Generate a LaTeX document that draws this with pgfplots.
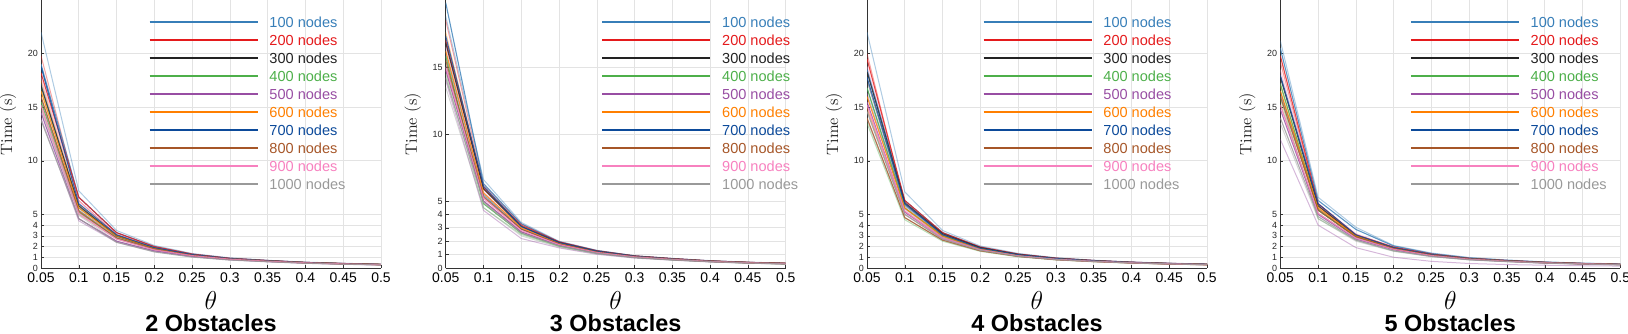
\RequirePackage{fix-cm}
\documentclass[border=0pt]{standalone}
\usepackage{fontspec}
\setsansfont{Liberation Sans}
\newfontfamily\lmr{lmroman10-regular.otf}
\usepackage{pgfplots}
\usepackage{pgfplotstable}
\pgfplotsset{compat=1.18}
\definecolor{c1}{HTML}{377EB8}
\definecolor{c2}{HTML}{E41A1C}
\definecolor{c3}{HTML}{222222}
\definecolor{c4}{HTML}{4DAF4A}
\definecolor{c5}{HTML}{984EA3}
\definecolor{c6}{HTML}{FF7F00}
\definecolor{c7}{HTML}{0C4A9A}
\definecolor{c8}{HTML}{A65628}
\definecolor{c9}{HTML}{F781BF}
\definecolor{c10}{HTML}{999999}

\pgfplotstableread{
x a1 a2 a3 a4 a5 a6 a7 a8 a9 a10 b1 b2 b3 b4 b5 b6 b7 b8 b9 b10
0.05 19.0 18.2 17.0 15.5 14.5 16.5 18.8 16.0 15.2 13.8 22.0 19.8 15.8 16.8 14.0 17.5 17.2 15.0 17.8 14.8
0.10 6.6 6.6 5.8 5.2 4.6 5.6 6.0 5.3 5.1 4.6 7.2 6.3 5.4 5.6 4.4 5.9 5.7 5.0 6.2 4.9
0.15 3.3 3.3 3.0 2.8 2.5 3.0 3.1 2.8 2.7 2.4 3.5 3.1 2.9 3.0 2.4 3.1 3.0 2.7 3.2 2.5
0.20 2.0 2.0 1.85 1.75 1.6 1.85 1.9 1.75 1.7 1.5 2.1 1.9 1.8 1.8 1.55 1.9 1.85 1.7 1.95 1.6
0.25 1.3 1.3 1.22 1.18 1.08 1.22 1.25 1.17 1.15 1.02 1.35 1.25 1.2 1.2 1.05 1.25 1.22 1.15 1.28 1.08
0.30 0.9 0.9 0.86 0.84 0.78 0.86 0.88 0.83 0.82 0.74 0.95 0.88 0.85 0.85 0.76 0.88 0.86 0.82 0.9 0.78
0.35 0.7 0.7 0.66 0.65 0.6 0.66 0.68 0.64 0.63 0.58 0.72 0.68 0.66 0.66 0.59 0.68 0.67 0.63 0.69 0.6
0.40 0.52 0.52 0.5 0.49 0.46 0.5 0.51 0.48 0.48 0.44 0.55 0.51 0.5 0.5 0.45 0.51 0.5 0.48 0.52 0.46
0.45 0.42 0.42 0.4 0.39 0.37 0.4 0.41 0.39 0.38 0.35 0.44 0.41 0.4 0.4 0.36 0.41 0.4 0.38 0.42 0.37
0.50 0.34 0.34 0.32 0.32 0.3 0.32 0.33 0.31 0.31 0.28 0.36 0.33 0.32 0.32 0.29 0.33 0.32 0.31 0.34 0.3
}\tabA

\pgfplotstableread{
x a1 a2 a3 a4 a5 a6 a7 a8 a9 a10 b1 b2 b3 b4 b5 b6 b7 b8 b9 b10
0.05 19.8 17.0 16.8 15.8 14.8 16.2 17.3 15.5 15.0 14.2 18.8 18.5 15.2 14.5 14.0 17.6 16.0 14.8 16.5 13.5
0.10 6.3 6.0 5.9 4.8 5.0 5.6 6.1 5.3 5.2 4.9 6.6 6.2 5.4 4.5 4.3 5.9 5.5 5.0 5.7 4.5
0.15 3.3 3.2 3.1 2.6 2.7 3.0 3.1 2.9 2.8 2.6 3.4 3.3 2.9 2.5 2.2 3.1 2.9 2.7 3.0 2.4
0.20 1.95 1.95 1.9 1.65 1.7 1.85 1.9 1.8 1.75 1.65 2.0 1.95 1.8 1.6 1.5 1.9 1.8 1.7 1.85 1.55
0.25 1.3 1.28 1.25 1.12 1.12 1.22 1.25 1.18 1.16 1.1 1.32 1.3 1.2 1.08 1.02 1.25 1.2 1.14 1.22 1.05
0.30 0.9 0.9 0.88 0.8 0.8 0.86 0.88 0.84 0.83 0.78 0.92 0.9 0.85 0.78 0.74 0.88 0.85 0.82 0.86 0.76
0.35 0.7 0.7 0.68 0.62 0.63 0.67 0.68 0.65 0.64 0.61 0.72 0.7 0.66 0.6 0.58 0.68 0.66 0.63 0.67 0.59
0.40 0.53 0.53 0.51 0.48 0.48 0.51 0.52 0.5 0.49 0.47 0.55 0.53 0.5 0.47 0.45 0.52 0.5 0.48 0.51 0.46
0.45 0.42 0.42 0.41 0.38 0.39 0.41 0.41 0.4 0.39 0.37 0.44 0.42 0.4 0.37 0.36 0.41 0.4 0.38 0.41 0.36
0.50 0.35 0.35 0.34 0.31 0.32 0.34 0.34 0.33 0.32 0.3 0.36 0.35 0.33 0.3 0.29 0.34 0.33 0.31 0.34 0.29
}\tabB

\pgfplotstableread{
x a1 a2 a3 a4 a5 a6 a7 a8 a9 a10 b1 b2 b3 b4 b5 b6 b7 b8 b9 b10
0.05 18.5 19.5 18.3 16.8 15.5 16.0 17.8 14.0 15.2 14.6 22.0 20.0 17.5 13.5 16.3 15.0 16.8 14.8 18.8 13.8
0.10 6.3 6.3 6.1 5.6 5.2 5.6 6.0 4.7 5.3 5.0 7.1 6.0 5.9 4.5 5.5 5.3 5.8 5.0 6.2 4.7
0.15 3.3 3.3 3.2 3.0 2.8 3.0 3.1 2.6 2.8 2.7 3.5 3.2 3.1 2.5 2.9 2.9 3.0 2.7 3.2 2.6
0.20 1.95 1.95 1.9 1.8 1.7 1.8 1.85 1.6 1.7 1.65 2.05 1.9 1.85 1.55 1.75 1.75 1.8 1.65 1.9 1.6
0.25 1.3 1.3 1.26 1.2 1.12 1.2 1.24 1.08 1.14 1.1 1.36 1.27 1.24 1.04 1.16 1.17 1.2 1.1 1.26 1.08
0.30 0.92 0.92 0.89 0.85 0.8 0.85 0.88 0.77 0.82 0.79 0.96 0.9 0.88 0.75 0.83 0.83 0.86 0.79 0.9 0.77
0.35 0.7 0.7 0.68 0.65 0.62 0.65 0.67 0.6 0.63 0.61 0.73 0.69 0.67 0.58 0.64 0.64 0.66 0.61 0.69 0.6
0.40 0.54 0.54 0.52 0.5 0.48 0.5 0.52 0.47 0.49 0.47 0.56 0.53 0.52 0.45 0.5 0.5 0.51 0.47 0.53 0.46
0.45 0.43 0.43 0.42 0.4 0.38 0.4 0.41 0.37 0.39 0.38 0.45 0.42 0.41 0.36 0.4 0.4 0.41 0.38 0.42 0.37
0.50 0.35 0.35 0.34 0.33 0.31 0.33 0.34 0.3 0.32 0.31 0.37 0.34 0.34 0.29 0.32 0.32 0.33 0.31 0.34 0.3
}\tabC

\pgfplotstableread{
x a1 a2 a3 a4 a5 a6 a7 a8 a9 a10 b1 b2 b3 b4 b5 b6 b7 b8 b9 b10
0.05 20.5 19.8 17.8 17.2 14.8 16.5 18.0 16.0 15.2 14.0 21.2 19.2 16.5 15.8 12.0 17.0 16.2 15.3 18.5 13.5
0.10 6.3 6.0 5.8 5.4 5.0 5.6 6.0 5.4 5.1 4.8 6.6 5.9 5.5 4.6 4.0 5.7 5.4 5.1 6.0 4.6
0.15 3.6 3.1 3.0 2.9 2.7 3.0 3.1 2.9 2.8 2.6 3.8 3.0 2.9 2.6 1.9 3.1 2.9 2.8 3.2 2.5
0.20 2.05 1.95 1.85 1.75 1.7 1.85 1.9 1.8 1.75 1.6 2.1 1.9 1.8 1.6 1.0 1.9 1.8 1.75 1.95 1.55
0.25 1.35 1.3 1.24 1.18 1.12 1.24 1.26 1.2 1.16 1.08 1.4 1.27 1.2 1.1 0.62 1.26 1.2 1.17 1.3 1.05
0.30 0.94 0.9 0.87 0.83 0.8 0.87 0.88 0.85 0.82 0.77 0.98 0.89 0.85 0.78 0.42 0.88 0.85 0.83 0.9 0.75
0.35 0.72 0.7 0.67 0.64 0.62 0.67 0.68 0.65 0.63 0.6 0.75 0.69 0.66 0.61 0.32 0.68 0.66 0.64 0.7 0.58
0.40 0.55 0.53 0.51 0.49 0.47 0.51 0.52 0.5 0.48 0.46 0.57 0.52 0.5 0.47 0.26 0.52 0.5 0.49 0.53 0.45
0.45 0.44 0.42 0.41 0.39 0.38 0.41 0.41 0.4 0.39 0.37 0.46 0.42 0.4 0.38 0.21 0.41 0.4 0.39 0.42 0.36
0.50 0.36 0.34 0.33 0.32 0.31 0.33 0.34 0.33 0.32 0.3 0.38 0.34 0.33 0.31 0.18 0.34 0.33 0.32 0.34 0.29
}\tabD

\pgfplotsset{
  panel/.style={
    scale only axis, width=340bp, height=268bp, anchor=south west,
    xmin=0.05, xmax=0.5, ymin=0,
    axis lines*=left,
    axis line style={color=black!80, line width=0.7bp},
    xtick={0.05,0.1,0.15,0.2,0.25,0.3,0.35,0.4,0.45,0.5},
    xticklabels={0.05,0.1,0.15,0.2,0.25,0.3,0.35,0.4,0.45,0.5},
    /pgf/number format/assume math mode=true,
    tick align=inside, major tick length=3bp,
    tick style={color=black!80, line width=0.5bp},
    grid=major, grid style={color=black!11, line width=0.6bp},
    clip mode=individual,
    xticklabel style={font=\sffamily\fontsize{14}{14}\selectfont, text=black, inner sep=1bp, yshift=-3.5bp},
    yticklabel style={font=\sffamily\fontsize{9}{9}\selectfont, text=black!85, inner sep=1bp, xshift=-2bp},
    legend style={draw=none, fill=none, inner sep=0pt, outer sep=0pt, anchor=north west,
      font=\sffamily\fontsize{14.6}{15}\selectfont, row sep=7.5bp, column sep=11bp,
      nodes={inner sep=0pt, text height=10.5bp, text depth=0bp}},
    legend cell align=left,
    legend image code/.code={\draw[##1, line width=1.5bp, opacity=1] (0bp,0bp) -- (108bp,0bp);},
  },
  y25/.style={ymax=25, ytick={0,1,2,3,4,5,10,15,20}},
  y20/.style={ymax=20, ytick={0,1,2,3,4,5,10,15}},
}

\newcommand\drawlines[1]{%
  \pgfplotsinvokeforeach{1,...,10}{\addplot[forget plot, color=c##1, opacity=0.4, line width=1bp] table[x=x,y=b##1]{#1};}
  \pgfplotsinvokeforeach{1,...,10}{\addplot[forget plot, color=c##1, opacity=0.8, line width=1.1bp] table[x=x,y=a##1]{#1};}
}
\newcommand\legendstuff{%
  \addlegendimage{c1}\addlegendentry{\textcolor{c1}{100 nodes}}
  \addlegendimage{c2}\addlegendentry{\textcolor{c2}{200 nodes}}
  \addlegendimage{c3}\addlegendentry{\textcolor{c3}{300 nodes}}
  \addlegendimage{c4}\addlegendentry{\textcolor{c4}{400 nodes}}
  \addlegendimage{c5}\addlegendentry{\textcolor{c5}{500 nodes}}
  \addlegendimage{c6}\addlegendentry{\textcolor{c6}{600 nodes}}
  \addlegendimage{c7}\addlegendentry{\textcolor{c7}{700 nodes}}
  \addlegendimage{c8}\addlegendentry{\textcolor{c8}{800 nodes}}
  \addlegendimage{c9}\addlegendentry{\textcolor{c9}{900 nodes}}
  \addlegendimage{c10}\addlegendentry{\textcolor{c10}{1000 nodes}}
}
% axis labels and panel title as text nodes in axis-relative coordinates
\newcommand\labels[1]{%
  \node[rotate=90, anchor=center, inner sep=0pt, text=black!85,
        font=\lmr\fontsize{16.5}{16.5}\selectfont] at (rel axis cs:-0.097,0.537) {Time (s)};
  \node[anchor=center, inner sep=0pt, font=\fontsize{26}{26}\selectfont] at (rel axis cs:0.5,-0.12) {$\theta$};
  \node[anchor=base, inner sep=0pt, font=\sffamily\bfseries\fontsize{23.5}{24}\selectfont] at (rel axis cs:0.5,-0.2388) {#1};
}

\begin{document}
\begin{tikzpicture}
\path[use as bounding box] (0,0) rectangle (1628bp,334bp);

\begin{axis}[panel, y25, at={(41bp,66bp)},
  legend style={at={(rel axis cs:0.3176,0.938)}}]
\drawlines{\tabA}
\legendstuff
\labels{2 Obstacles}
\end{axis}

\begin{axis}[panel, y20, at={(445.7bp,66bp)},
  legend style={at={(rel axis cs:0.4588,0.938)}}]
\drawlines{\tabB}
\legendstuff
\labels{3 Obstacles}
\end{axis}

\begin{axis}[panel, y25, at={(867bp,66bp)},
  legend style={at={(rel axis cs:0.341,0.938)}}]
\drawlines{\tabC}
\legendstuff
\labels{4 Obstacles}
\end{axis}

\begin{axis}[panel, y25, at={(1280.3bp,66bp)},
  legend style={at={(rel axis cs:0.382,0.938)}}]
\drawlines{\tabD}
\legendstuff
\labels{5 Obstacles}
\end{axis}
\end{tikzpicture}
\end{document}
